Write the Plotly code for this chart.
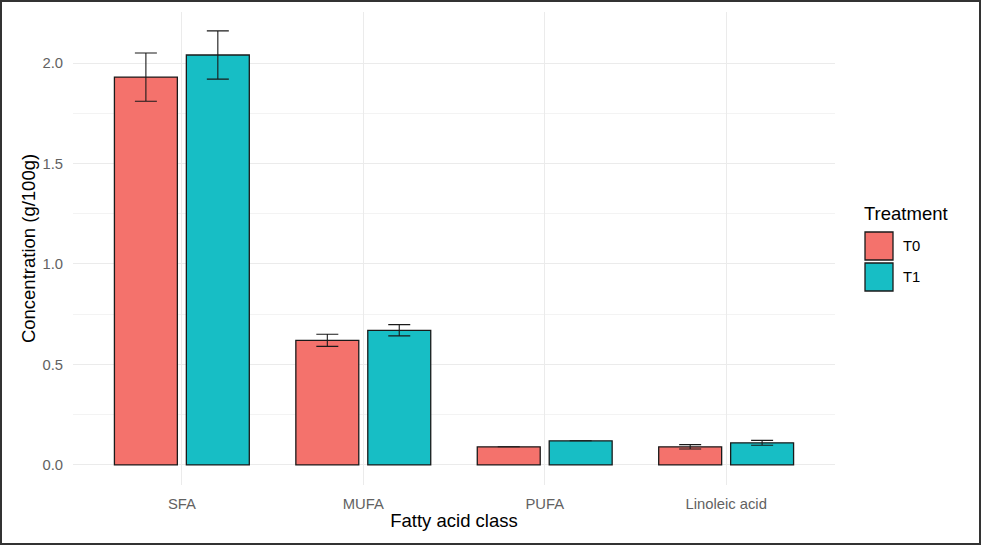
import plotly.graph_objects as go

# values
classes = ["SFA", "MUFA", "PUFA", "Linoleic acid"]
t0_mean = [1.93, 0.62, 0.09, 0.09]
t0_sd = [0.12, 0.03, None, 0.011]
t1_mean = [2.04, 0.67, 0.12, 0.11]
t1_sd = [0.12, 0.028, None, 0.012]
treatments = ["T0", "T1"]
colors = ["#F4726C", "#17BEC5"]

W, H = 981, 545
L, R, T, B = 73, 835, 12, 485  # panel edges in pixels
TITLE = 18.5
TEXT = 14.8


def px(x):
    return (x - L) / (R - L)


def py(y):
    return (B - y) / (B - T)


fig = go.Figure()
for name, mean, sd, col in zip(treatments, [t0_mean, t1_mean], [t0_sd, t1_sd], colors):
    fig.add_trace(go.Bar(
        x=classes, y=mean, name=name,
        marker=dict(color=col, line=dict(color="#1a1a1a", width=1.3)),
        error_y=dict(type="data", array=sd, visible=True, color="#1a1a1a",
                     thickness=1.1, width=11),
        showlegend=False,
    ))

fig.update_layout(
    width=W, height=H,
    margin=dict(l=L, r=W - R, t=T, b=H - B),
    paper_bgcolor="white", plot_bgcolor="white",
    barmode="group", bargap=0.207, bargroupgap=0.125,
    font=dict(family="Liberation Sans, Arial", color="#000000"),
)
fig.update_xaxes(
    range=[-0.6, 3.6], showgrid=True, gridcolor="#EBEBEB", gridwidth=1,
    tickfont=dict(size=TEXT, color="#626262"), ticks="", zeroline=False,
    ticklabelstandoff=8,
    title=dict(text="Fatty acid class", font=dict(size=TITLE, color="#000"), standoff=3),
)
fig.update_yaxes(
    range=[-0.1, 2.254], dtick=0.5, tickformat=".1f", showgrid=True,
    gridcolor="#EBEBEB", gridwidth=1, zeroline=False, ticks="",
    minor=dict(dtick=0.25, showgrid=True, gridcolor="#F3F3F3", gridwidth=0.8),
    tickfont=dict(size=TEXT, color="#626262"), ticklabelstandoff=9,
    title=dict(text="Concentration (g/100g)", font=dict(size=TITLE, color="#000"), standoff=1),
)

# legend drawn ggplot-style with large keys
fig.add_annotation(x=px(862), y=py(214), xref="paper", yref="paper", text="Treatment",
                   showarrow=False, xanchor="left", yanchor="middle",
                   font=dict(size=TITLE, color="#000"))
for i, (name, col) in enumerate(zip(treatments, colors)):
    top = 232 + i * 31
    fig.add_shape(type="rect", xref="paper", yref="paper",
                  x0=px(865), x1=px(893), y0=py(top), y1=py(top + 28),
                  fillcolor=col, line=dict(color="#1a1a1a", width=1.3))
    fig.add_annotation(x=px(901), y=py(top + 14), xref="paper", yref="paper", text=name,
                       showarrow=False, xanchor="left", yanchor="middle",
                       font=dict(size=TEXT, color="#000"))

# outer frame of the image
fig.add_shape(type="rect", xref="paper", yref="paper",
              x0=px(1), x1=px(980), y0=py(544), y1=py(1),
              line=dict(color="#333333", width=2))

fig.write_html("out.html", config={"displayModeBar": False},
               post_script="document.body.style.margin='0';")
